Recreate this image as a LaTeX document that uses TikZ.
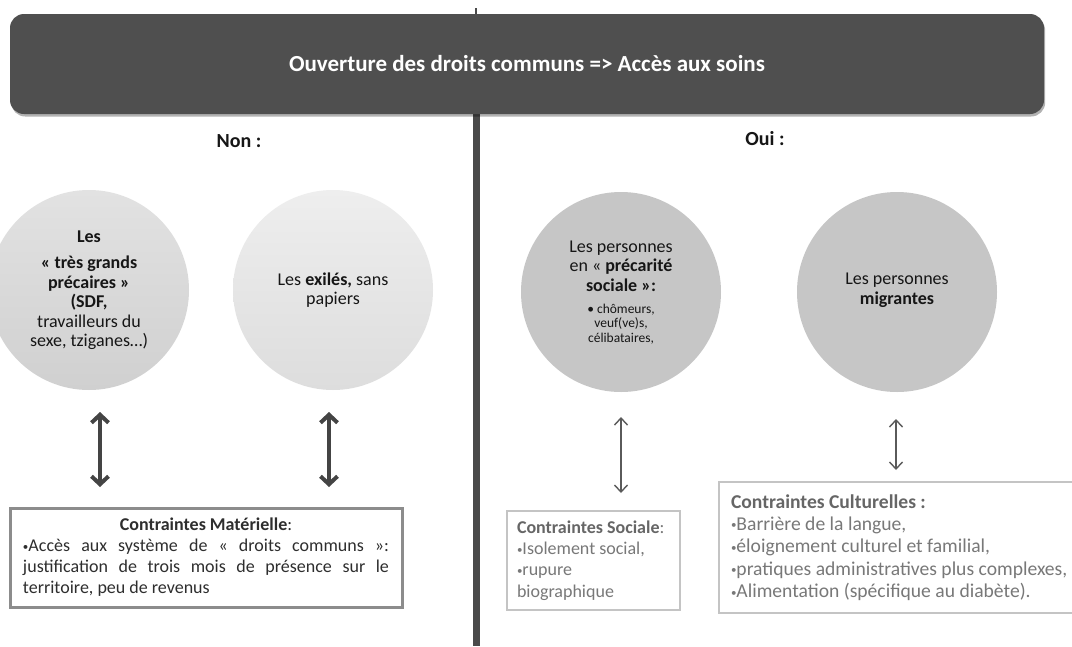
\documentclass[tikz,border=0pt]{standalone}
\usepackage{fontspec}
\setmainfont{Carlito}
\usetikzlibrary{arrows.meta,shadows}
\definecolor{bannercol}{HTML}{4F4F4F}
\definecolor{divcol}{HTML}{4A4A4A}
\definecolor{circAa}{HTML}{E2E2E2}
\definecolor{circAb}{HTML}{D0D0D0}
\definecolor{circBa}{HTML}{EEEEEE}
\definecolor{circBb}{HTML}{DDDDDD}
\definecolor{circC}{HTML}{C6C6C6}
\definecolor{txtdark}{HTML}{161616}
\definecolor{boxAline}{HTML}{8C8C8C}
\definecolor{boxAtext}{HTML}{2E2E2E}
\definecolor{boxBline}{HTML}{C4C4C4}
\definecolor{boxBtext}{HTML}{787878}
\definecolor{boxBtitle}{HTML}{666666}
\definecolor{arrbig}{HTML}{444444}
\definecolor{arrthin}{HTML}{5A5A5A}
\newcommand\smallbul{{\fontsize{11}{11}\selectfont\raisebox{1.6pt}{•}}}
\begin{document}
\begin{tikzpicture}[x=1pt,y=-1pt,
  bannerbox/.style={fill=bannercol, rounded corners=14pt, minimum width=1034pt, minimum height=100pt,
    inner sep=0pt, text=white, font=\fontsize{23}{27}\selectfont\bfseries,
    drop shadow={shadow xshift=1.2pt, shadow yshift=-2.5pt, opacity=0.3, fill=black}},
  divline/.style={draw=divcol, line width=7pt},
  headlbl/.style={text=txtdark, font=\fontsize{20}{24}\selectfont\bfseries, inner sep=0pt},
  circbase/.style={circle, minimum size=200pt, inner sep=0pt, draw=none},
  circA/.style={circbase, top color=circAa, bottom color=circAb},
  circB/.style={circbase, top color=circBa, bottom color=circBb},
  circC/.style={circbase, fill=circC},
  ctext/.style={align=center, text=txtdark, inner sep=0pt, font=\fontsize{18}{19.5}\selectfont},
  csmall/.style={align=center, text=txtdark, inner sep=0pt, font=\fontsize{13.5}{14.2}\selectfont},
  bigarr/.style={draw=arrbig, line width=4pt, {Straight Barb[length=8pt,width=17pt]}-{Straight Barb[length=8pt,width=17pt]}},
  thinarr/.style={draw=arrthin, line width=1.4pt, {Straight Barb[length=7pt,width=13pt]}-{Straight Barb[length=7pt,width=13pt]}},
  boxA/.style={draw=boxAline, line width=3pt, fill=white, inner sep=0pt, minimum width=392pt, minimum height=99pt,
    text width=366pt, align=justify, text=boxAtext, font=\fontsize{18}{21}\selectfont},
  boxB/.style={draw=boxBline, line width=1.4pt, fill=white, inner sep=0pt,
    align=flush left, text=boxBtext}
]
\useasboundingbox (0,0) rectangle (1072,646);
\fill[white] (0,0) rectangle (1072,646);

% divider
\coordinate (tick1) at (476,8);
\coordinate (tick2) at (476,15);
\coordinate (div1) at (476,110);
\coordinate (div2) at (476,646);
\draw[divline] (div1) -- (div2);
\draw[draw=divcol, line width=1.5pt] (tick1) -- (tick2);

% banner
\node[bannerbox] (banner) at (527,64) {Ouverture des droits communs => Accès aux soins};

% headings
\node[headlbl] (non) at (239,141) {Non :};
\node[headlbl] (oui) at (765,139) {Oui :};

% circles
\node[circA] (c1) at (89,290) {};
\node[circB] (c2) at (333,290) {};
\node[circC] (c3) at (621,292) {};
\node[circC] (c4) at (897,292) {};

\node[ctext] (t1) at (89,290) {\textbf{Les}\\[7pt] \textbf{«~très grands}\\ \textbf{précaires~»}\\ \textbf{(SDF,}\\ travailleurs du\\ sexe, tziganes…)};
\node[ctext] (t2) at (333,290) {Les \textbf{exilés,} sans\\ papiers};
\node[ctext] (t3a) at (621,266) {Les personnes\\ en «~\textbf{précarité}\\ \textbf{sociale~»:}};
\node[csmall] (t3b) at (621,324) {• chômeurs,\\ veuf(ve)s,\\ célibataires,};
\node[ctext] (t4) at (897,290) {Les personnes\\ \textbf{migrantes}};

% boxes
\node[boxA] (b1) at (206,557.5) {\hyphenpenalty=10000{\centering\textbf{Contraintes Matérielle}:\par}
\smallbul Accès aux système de «~droits communs~»:\linebreak justification de trois mois de présence sur le\linebreak territoire, peu de revenus\par};
\node[boxB, minimum width=173pt, minimum height=99pt, text width=153pt, font=\fontsize{18}{21.3}\selectfont] (b2) at (593.5,560.5)
  {\textcolor{boxBtitle}{\textbf{Contraintes Sociale}}:\\ \smallbul Isolement social,\\ \smallbul rupure\\ biographique};
\node[boxB, minimum width=380pt, minimum height=131pt, text width=356pt, font=\fontsize{19.6}{22.4}\selectfont] (b3) at (909,547.5)
  {\textcolor{boxBtitle}{\textbf{Contraintes Culturelles :}}\\ \smallbul Barrière de la langue,\\ \smallbul éloignement culturel et familial,\\ \smallbul pratiques administratives plus complexes,\\ \smallbul Alimentation (spécifique au diabète).};

% arrows
\coordinate (a1s) at (100,412); \coordinate (a1e) at (100,487);
\coordinate (a2s) at (329,412); \coordinate (a2e) at (329,487);
\coordinate (a3s) at (621,417); \coordinate (a3e) at (621,493);
\coordinate (a4s) at (896,419); \coordinate (a4e) at (896,470);
\draw[bigarr] (a1s) -- (a1e);
\draw[bigarr] (a2s) -- (a2e);
\draw[thinarr] (a3s) -- (a3e);
\draw[thinarr] (a4s) -- (a4e);
\end{tikzpicture}
\end{document}
